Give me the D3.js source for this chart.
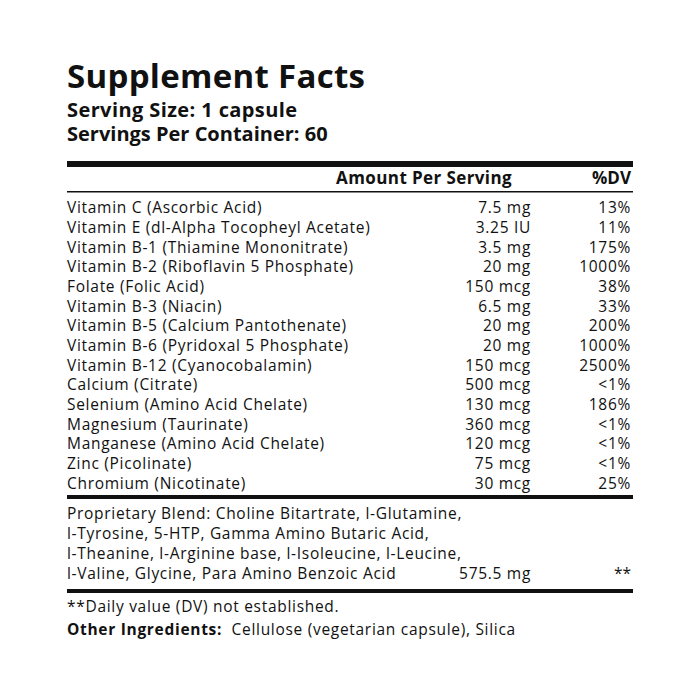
<!DOCTYPE html>
<html><head><meta charset="utf-8">
<script src="https://cdn.jsdelivr.net/npm/d3@7"></script>
<style>body{margin:0;background:#fff}text{font-family:"Open Sans","Noto Sans",sans-serif;fill:#111}</style>
</head><body>
<script>
const nutrients = ["Vitamin C (Ascorbic Acid)","Vitamin E (dl-Alpha Tocopheyl Acetate)","Vitamin B-1 (Thiamine Mononitrate)","Vitamin B-2 (Riboflavin 5 Phosphate)","Folate (Folic Acid)","Vitamin B-3 (Niacin)","Vitamin B-5 (Calcium Pantothenate)","Vitamin B-6 (Pyridoxal 5 Phosphate)","Vitamin B-12 (Cyanocobalamin)","Calcium (Citrate)","Selenium (Amino Acid Chelate)","Magnesium (Taurinate)","Manganese (Amino Acid Chelate)","Zinc (Picolinate)","Chromium (Nicotinate)"];
const amounts = ["7.5 mg","3.25 IU","3.5 mg","20 mg","150 mcg","6.5 mg","20 mg","20 mg","150 mcg","500 mcg","130 mcg","360 mcg","120 mcg","75 mcg","30 mcg"];
const dv = ["13%","11%","175%","1000%","38%","33%","200%","1000%","2500%","<1%","186%","<1%","<1%","<1%","25%"];
const blendLines = ["Proprietary Blend: Choline Bitartrate, l-Glutamine,","l-Tyrosine, 5-HTP, Gamma Amino Butaric Acid,","l-Theanine, l-Arginine base, l-Isoleucine, l-Leucine,","l-Valine, Glycine, Para Amino Benzoic Acid"];
const blendAmount = "575.5 mg", blendDv = "**";

const svg = d3.select("body").append("svg").attr("width",700).attr("height",700);
const L = 67, R = 633, amtX = 531, dvX = 631, fs = 15.5, ls = 0.7;

svg.append("text").attr("x",L).attr("y",88).attr("font-size",33).attr("font-weight",700).attr("letter-spacing",0.3).text("Supplement Facts");
svg.append("text").attr("x",L).attr("y",117).attr("font-size",20).attr("font-weight",700).attr("letter-spacing",0.4).text("Serving Size: 1 capsule");
svg.append("text").attr("x",L).attr("y",141).attr("font-size",20).attr("font-weight",700).text("Servings Per Container: 60");

const rule = (y,h) => svg.append("rect").attr("x",L).attr("y",y).attr("width",R-L).attr("height",h).attr("fill","#111");
rule(161,6);
svg.append("text").attr("x",512).attr("y",184).attr("font-size",17).attr("font-weight",700).attr("letter-spacing",0.4).attr("text-anchor","end").text("Amount Per Serving");
svg.append("text").attr("x",dvX).attr("y",184).attr("font-size",17).attr("font-weight",700).attr("text-anchor","end").text("%DV");
rule(191,1.5);

const y = d3.scaleBand().domain(d3.range(nutrients.length)).range([198,493]);
const rows = svg.append("g").selectAll("g").data(nutrients).join("g")
  .attr("transform",(d,i)=>`translate(0,${y(i)+y.bandwidth()*0.78})`).attr("font-size",fs).attr("letter-spacing",ls);
rows.append("text").attr("x",L).text(d=>d);
rows.append("text").attr("x",amtX).attr("text-anchor","end").text((d,i)=>amounts[i]);
rows.append("text").attr("x",dvX).attr("text-anchor","end").text((d,i)=>dv[i]);

rule(495,4);
const yb = d3.scaleBand().domain(d3.range(blendLines.length)).range([503,583]);
svg.append("g").attr("font-size",fs).attr("letter-spacing",ls).selectAll("text").data(blendLines).join("text")
  .attr("x",L).attr("y",(d,i)=>yb(i)+yb.bandwidth()*0.78).text(d=>d);
const lastY = yb(blendLines.length-1)+yb.bandwidth()*0.78;
svg.append("text").attr("x",amtX).attr("y",lastY).attr("font-size",fs).attr("letter-spacing",ls).attr("text-anchor","end").text(blendAmount);
svg.append("text").attr("x",dvX).attr("y",lastY).attr("font-size",fs).attr("text-anchor","end").text(blendDv);
rule(589,4);

svg.append("text").attr("x",L).attr("y",612).attr("font-size",fs).attr("letter-spacing",ls).text("**Daily value (DV) not established.");
const oi = svg.append("text").attr("x",L).attr("y",635).attr("font-size",fs).attr("letter-spacing",ls);
oi.append("tspan").attr("font-weight",700).text("Other Ingredients:");
oi.append("tspan").text("\u00a0 Cellulose (vegetarian capsule), Silica");
</script>
</body></html>
